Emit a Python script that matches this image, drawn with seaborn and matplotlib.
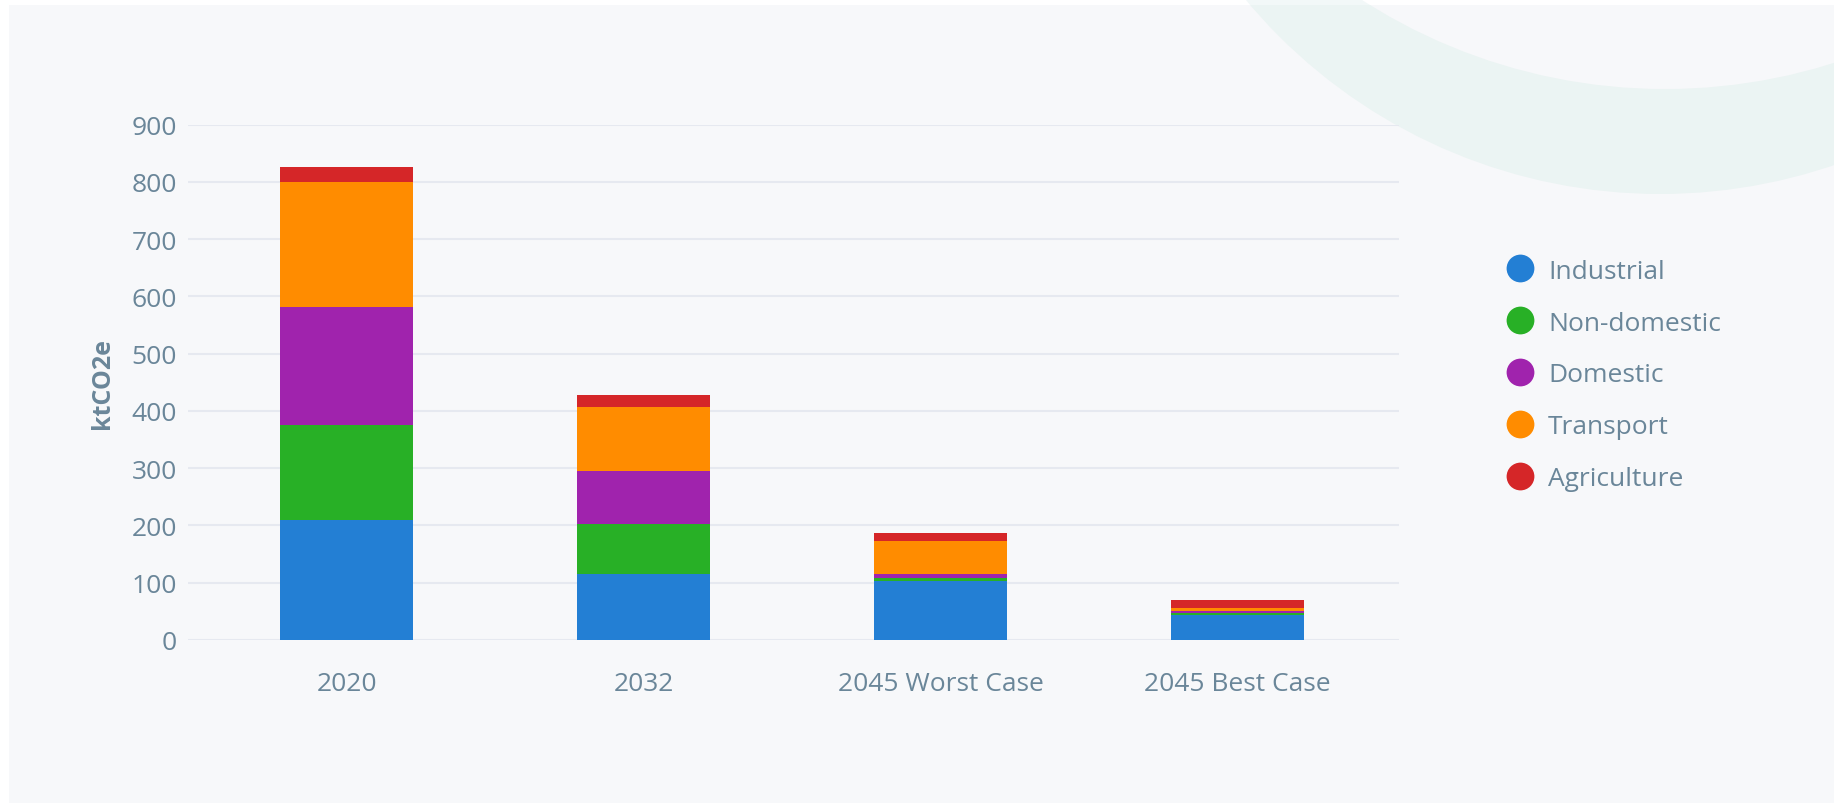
import matplotlib
matplotlib.use("Agg")
import matplotlib.pyplot as plt
import seaborn as sns
import numpy as np
import pandas as pd
from matplotlib.patches import Circle, Rectangle
from matplotlib.lines import Line2D
from matplotlib.transforms import IdentityTransform

# ---- data ----
categories = ["2020", "2032", "2045 Worst Case", "2045 Best Case"]
industrial = [210, 116, 103, 44]
non_domestic = [166, 86, 6, 3]
domestic = [206, 93, 7, 4]
transport = [218, 111, 56, 4]
agriculture = [26, 21, 14, 14]
series_names = ["Industrial", "Non-domestic", "Domestic", "Transport", "Agriculture"]
series_values = [industrial, non_domestic, domestic, transport, agriculture]
series_colors = ["#237fd4", "#28b026", "#a023ad", "#ff8c00", "#d52628"]
y_ticks = [0, 100, 200, 300, 400, 500, 600, 700, 800, 900]

TEXT = "#6a8699"
PANEL = "#f7f8fa"
W, H = 1834, 804

sns.set_theme(style="white")
plt.rcParams["font.family"] = ["Open Sans", "DejaVu Sans"]

fig = plt.figure(figsize=(W / 100, H / 100), dpi=100)
fig.patch.set_facecolor("white")

# background panel and decorative arc (pixel coordinates, origin bottom-left)
idt = IdentityTransform()
panel = Rectangle((9, 0), W, H - 6, transform=idt, facecolor=PANEL, edgecolor="none", zorder=-20)
fig.add_artist(panel)
strip = Rectangle((9, H - 6), W, 6, transform=idt, facecolor="white", edgecolor="none", zorder=-20)
fig.add_artist(strip)

def add_ring(clip, outer_col, inner_col):
    oc = Circle((1660, H + 344), 539, transform=idt, facecolor=outer_col, edgecolor="none", zorder=-19)
    ic = Circle((1665, H + 470), 560, transform=idt, facecolor=inner_col, edgecolor="none", zorder=-18)
    for c in (oc, ic):
        fig.add_artist(c)
        c.set_clip_path(clip)

clip_panel = Rectangle((9, 0), W, H - 6, transform=idt)
clip_strip = Rectangle((9, H - 6), W, 6, transform=idt)
add_ring(clip_panel, "#ebf4f3", PANEL)
add_ring(clip_strip, "#f2f8f8", "white")

# axes
ax = fig.add_axes([188 / W, 1 - 641 / H, (1399 - 188) / W, (641 - 125.5) / H])
ax.set_facecolor("none")

bottom = np.zeros(len(categories))
for name, vals, col in zip(series_names, series_values, series_colors):
    sns.barplot(x=categories, y=vals, bottom=bottom, color=col, saturation=1,
                width=0.448, ax=ax, linewidth=0, zorder=3)
    bottom = bottom + np.array(vals)

ax.set_ylim(0, 900)
ax.set_xlim(-0.534, 3.544)
ax.set_yticks(y_ticks)
ax.set_yticklabels([str(t) for t in y_ticks])
ax.yaxis.grid(True, color="#e6e9f0", linewidth=1.5, zorder=0)
ax.set_axisbelow(True)
for s in ax.spines.values():
    s.set_visible(False)
ax.tick_params(axis="y", length=0, pad=8, labelsize=19, labelcolor=TEXT)
ax.tick_params(axis="x", length=0, pad=22, labelsize=19, labelcolor=TEXT)
ax.set_xlabel("")
ax.set_ylabel("ktCO2e", color=TEXT, fontsize=18, fontweight="bold", labelpad=12)

handles = [Line2D([0], [0], marker="o", linestyle="none", markersize=20,
                  markerfacecolor=c, markeredgecolor="none") for c in series_colors]
fig.legend(handles, series_names, loc="center left",
           bbox_to_anchor=(1507 / W, 1 - 376 / H), frameon=False,
           fontsize=19, labelcolor=TEXT, handlelength=1.0, handletextpad=0.56,
           labelspacing=1.02, borderpad=0, borderaxespad=0)

fig.savefig("out.png", dpi=100, facecolor=fig.get_facecolor())
